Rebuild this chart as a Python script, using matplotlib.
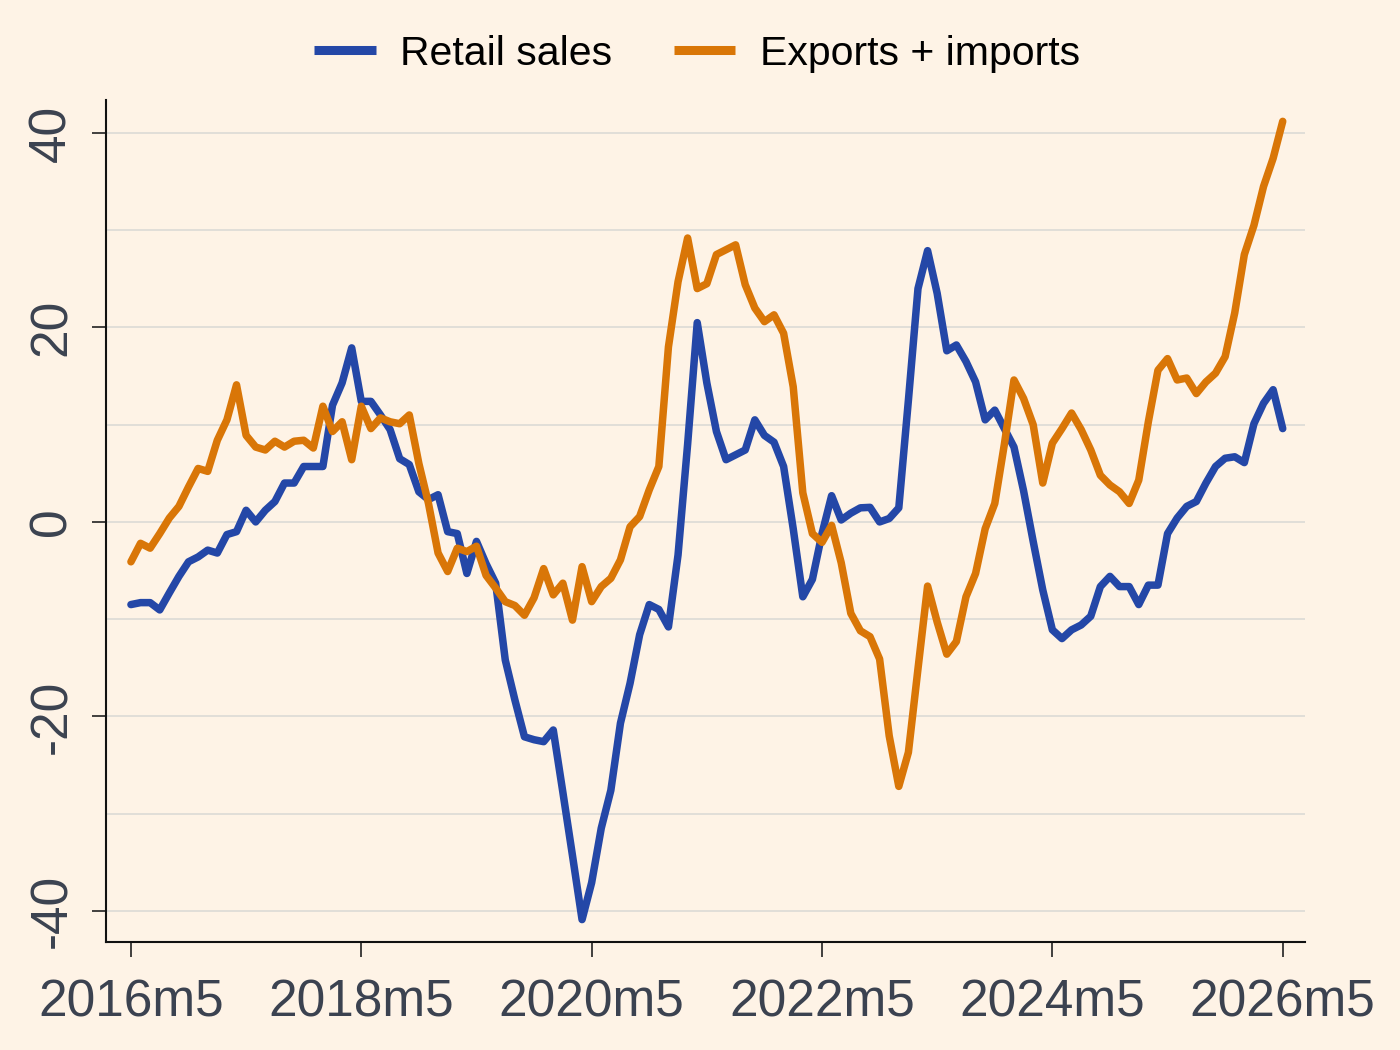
import numpy as np
import matplotlib
matplotlib.use("Agg")
import matplotlib.pyplot as plt

# monthly series, 2016m5 .. 2026m5 (121 months)
retail_sales = [
    -8.5, -8.3, -8.3, -9.05, -7.3, -5.6, -4.1, -3.6, -2.9, -3.2,
    -1.3, -1.0, 1.2, 0.0, 1.2, 2.1, 4.0, 4.0, 5.7, 5.7,
    5.7, 12.0, 14.3, 17.9, 12.4, 12.4, 11.0, 9.5, 6.5, 5.9,
    3.1, 2.3, 2.8, -1.0, -1.2, -5.3, -2.0, -4.3, -6.3, -14.2,
    -18.3, -22.1, -22.4, -22.6, -21.4, -27.8, -34.3, -40.9, -37.1, -31.5,
    -27.6, -20.7, -16.6, -11.6, -8.5, -9.0, -10.8, -3.4, 8.0, 20.5,
    14.3, 9.3, 6.4, 6.9, 7.4, 10.5, 8.9, 8.2, 5.7, -0.7,
    -7.7, -5.9, -1.2, 2.7, 0.2, 0.9, 1.45, 1.5, 0.0, 0.35,
    1.45, 12.5, 24.0, 27.9, 23.5, 17.6, 18.2, 16.5, 14.4, 10.5,
    11.5, 9.6, 7.7, 3.2, -2.0, -7.0, -11.1, -12.0, -11.1, -10.6,
    -9.7, -6.65, -5.6, -6.65, -6.65, -8.5, -6.5, -6.5, -1.2, 0.4,
    1.6, 2.1, 4.0, 5.7, 6.55, 6.7, 6.1, 10.1, 12.2, 13.6,
    9.6,
]

exports_imports = [
    -4.1, -2.2, -2.7, -1.2, 0.4, 1.6, 3.6, 5.5, 5.2, 8.4,
    10.5, 14.1, 8.9, 7.7, 7.4, 8.3, 7.7, 8.3, 8.4, 7.6,
    11.9, 9.3, 10.3, 6.4, 11.9, 9.6, 10.7, 10.3, 10.1, 11.0,
    6.0, 1.9, -3.2, -5.1, -2.7, -3.05, -2.5, -5.5, -6.8, -8.2,
    -8.6, -9.6, -7.8, -4.8, -7.5, -6.3, -10.1, -4.6, -8.2, -6.65,
    -5.8, -3.9, -0.5, 0.55, 3.3, 5.7, 18.0, 24.7, 29.2, 24.0,
    24.5, 27.5, 28.0, 28.5, 24.4, 22.0, 20.6, 21.3, 19.4, 13.9,
    3.0, -1.2, -2.1, -0.35, -4.2, -9.4, -11.2, -11.8, -14.1, -22.0,
    -27.2, -23.7, -15.1, -6.6, -10.3, -13.6, -12.3, -7.7, -5.3, -0.7,
    1.9, 8.0, 14.6, 12.7, 10.0, 4.0, 8.1, 9.6, 11.2, 9.5,
    7.4, 4.8, 3.8, 3.1, 1.9, 4.3, 10.3, 15.6, 16.8, 14.6,
    14.8, 13.2, 14.4, 15.3, 17.0, 21.5, 27.5, 30.5, 34.5, 37.4,
    41.2,
]

tick_pos = [0, 24, 48, 72, 96, 120]
tick_labels = ["2016m5", "2018m5", "2020m5", "2022m5", "2024m5", "2026m5"]

BG = "#fef3e6"
BLUE = "#2447a7"
ORANGE = "#d97607"
TXT = "#3b4250"

plt.rcParams["font.family"] = ["Liberation Sans", "DejaVu Sans"]
plt.rcParams["axes.unicode_minus"] = False

fig = plt.figure(figsize=(14, 10.5), dpi=100, facecolor=BG)
ax = fig.add_axes([0.0757, 0.1029, 0.8563, 0.8019], facecolor=BG)

months = np.arange(len(retail_sales))
ax.plot(months, retail_sales, color=BLUE, lw=5.4, label="Retail sales",
        solid_joinstyle="round", solid_capstyle="round", zorder=3)
ax.plot(months, exports_imports, color=ORANGE, lw=5.4, label="Exports + imports",
        solid_joinstyle="round", solid_capstyle="round", zorder=3)

ax.set_xlim(-2.6, 122.3)
ax.set_ylim(-43.2, 43.4)

ax.set_xticks(tick_pos)
ax.set_xticklabels(tick_labels)
ax.set_yticks([-40, -20, 0, 20, 40])
ax.set_yticks([-30, -10, 10, 30], minor=True)
ax.grid(axis="y", which="both", color="#dcdad6", lw=1.2, zorder=0)

for s in ["top", "right"]:
    ax.spines[s].set_visible(False)
for s in ["left", "bottom"]:
    ax.spines[s].set_color("#111111")
    ax.spines[s].set_linewidth(1.5)

ax.tick_params(axis="x", length=11, width=1.2, color="#222222",
               labelsize=37, labelcolor=TXT, pad=15)
ax.tick_params(axis="y", which="major", length=10, width=1.2, color="#222222",
               labelsize=37, labelcolor=TXT, pad=11)
ax.tick_params(axis="y", which="minor", length=0)
for lab in ax.get_yticklabels():
    lab.set_rotation(90)
    lab.set_va("center")

leg = fig.legend(loc="center", bbox_to_anchor=(0.498, 0.949), ncol=2,
                 frameon=False, fontsize=29.5, handlelength=1.5,
                 handletextpad=0.6, columnspacing=1.5)
for h in leg.get_lines():
    h.set_linewidth(6.5)
    h.set_solid_capstyle("butt")

fig.savefig("out.png", dpi=100, facecolor=BG)
